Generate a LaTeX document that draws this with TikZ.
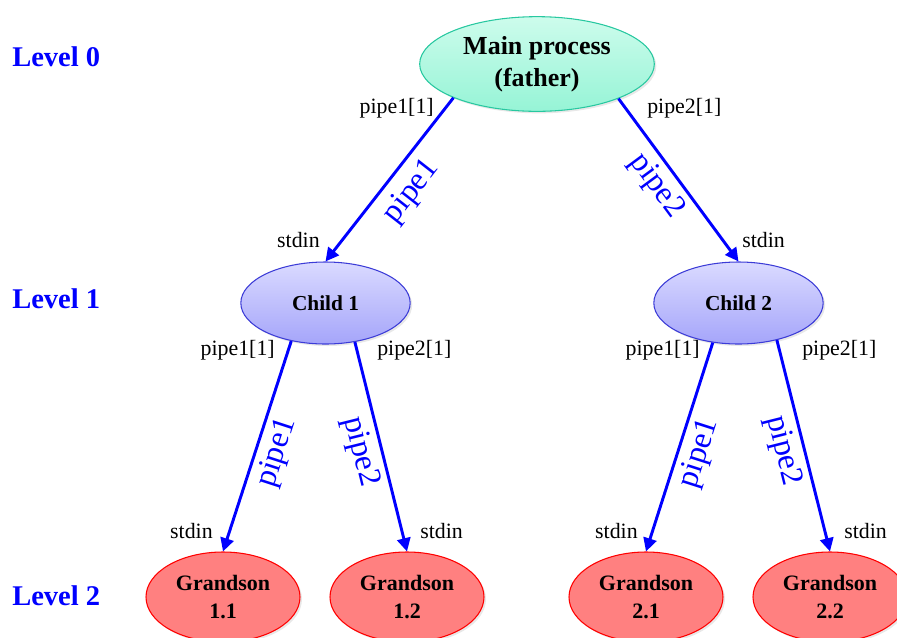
\documentclass[tikz,border=0pt]{standalone}
\usepackage{fontspec}
\setmainfont{Liberation Serif}
\usetikzlibrary{arrows.meta, shapes.geometric, shadows}

\definecolor{mintA}{RGB}{205,252,236}
\definecolor{mintB}{RGB}{150,244,214}
\definecolor{mintD}{RGB}{40,200,160}
\definecolor{lilacA}{RGB}{218,218,255}
\definecolor{lilacB}{RGB}{165,165,250}
\definecolor{lilacD}{RGB}{60,60,215}
\definecolor{rosy}{RGB}{255,128,128}

\begin{document}
\begin{tikzpicture}[x=0.75pt, y=-0.75pt,
  proc/.style={ellipse, draw, line width=0.8pt, align=center, inner sep=0pt,
    drop shadow={opacity=0.18, shadow xshift=1.5pt, shadow yshift=-1.5pt}},
  father/.style={proc, draw=mintD, top color=mintA, bottom color=mintB,
    minimum width=176pt, minimum height=71pt,
    font=\fontsize{19.5}{24}\selectfont\bfseries},
  kid/.style={proc, draw=lilacD, top color=lilacA, bottom color=lilacB,
    minimum width=127pt, minimum height=61.5pt,
    font=\fontsize{16}{20}\selectfont\bfseries},
  grandkid/.style={proc, draw=red, fill=rosy,
    minimum width=115.5pt, minimum height=67.5pt,
    font=\fontsize{16.5}{21}\selectfont\bfseries},
  lvl/.style={text=blue, anchor=base west, inner sep=0pt,
    font=\fontsize{21.4}{24}\selectfont\bfseries},
  port/.style={inner sep=0pt, font=\fontsize{16.4}{18}\selectfont},
  pipe/.style={draw=blue, line width=2.2pt, -{Triangle[length=10pt, width=10pt]}},
  plbl/.style={text=blue, sloped, font=\fontsize{24}{26}\selectfont}]
\useasboundingbox (0,0) rectangle (897,637);

% levels
\node[lvl] (lv0) at (12,66) {Level 0};
\node[lvl] (lv1) at (12,308) {Level 1};
\node[lvl] (lv2) at (12,605) {Level 2};

% processes
\node[father] (main) at (537,64) {Main process\\(father)};
\node[kid] (c1) at (325.5,303) {Child 1};
\node[kid] (c2) at (738.5,303) {Child 2};
\node[grandkid] (g11) at (223,597) {Grandson\\1.1};
\node[grandkid] (g12) at (407,597) {Grandson\\1.2};
\node[grandkid] (g21) at (646,597) {Grandson\\2.1};
\node[grandkid] (g22) at (830,597) {Grandson\\2.2};

% pipes
\draw[pipe] (main.202) -- node[plbl, pos=0.48, below=4pt] {pipe1} (c1.north);
\draw[pipe] (main.337) -- node[plbl, pos=0.46, below=1pt] {pipe2} (c2.north);
\draw[pipe] (c1.228) -- node[plbl, below=1pt] {pipe1} (g11.north);
\draw[pipe] (c1.307) -- node[plbl, below=1pt] {pipe2} (g12.north);
\draw[pipe] (c2.237) -- node[plbl, below=1pt] {pipe1} (g21.north);
\draw[pipe] (c2.316) -- node[plbl, below=1pt] {pipe2} (g22.north);

% pipe ends
\node[port, anchor=base east] (w0) at (434,113) {pipe1[1]};
\node[port, anchor=base west] (w1) at (647,113) {pipe2[1]};
\node[port, anchor=base east] (r1) at (320,247) {stdin};
\node[port, anchor=base west] (r2) at (742,247) {stdin};
\node[port, anchor=base east] (w11) at (275,355) {pipe1[1]};
\node[port, anchor=base west] (w12) at (377,355) {pipe2[1]};
\node[port, anchor=base east] (w21) at (700,355) {pipe1[1]};
\node[port, anchor=base west] (w22) at (802,355) {pipe2[1]};
\node[port, anchor=base east] (r11) at (213,538) {stdin};
\node[port, anchor=base west] (r12) at (420,538) {stdin};
\node[port, anchor=base east] (r21) at (638,538) {stdin};
\node[port, anchor=base west] (r22) at (844,538) {stdin};
\end{tikzpicture}
\end{document}
